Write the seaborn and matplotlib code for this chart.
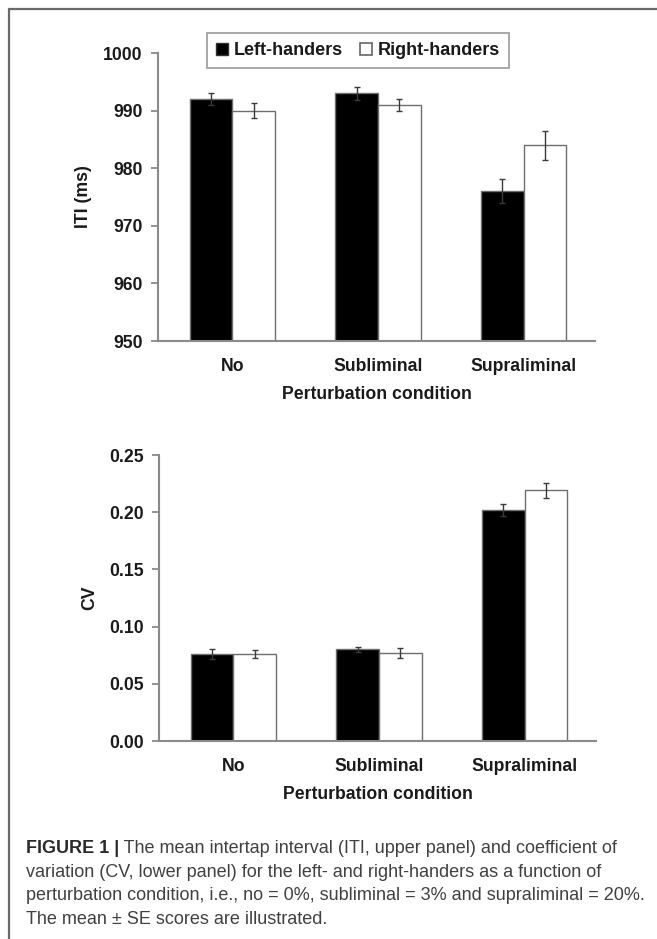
import matplotlib
matplotlib.use("Agg")
import matplotlib.pyplot as plt
from matplotlib.lines import Line2D
import seaborn as sns
import pandas as pd

conditions = ["No", "Subliminal", "Supraliminal"]
groups = ["Left-handers", "Right-handers"]
iti_left = [992.0, 993.0, 976.0]
iti_right = [990.0, 991.0, 984.0]
iti_left_se = [1.1, 1.1, 2.1]
iti_right_se = [1.3, 1.0, 2.5]
cv_left = [0.076, 0.080, 0.202]
cv_right = [0.076, 0.077, 0.219]
cv_left_se = [0.0045, 0.002, 0.005]
cv_right_se = [0.0035, 0.0045, 0.0065]
iti_ticks = [950, 960, 970, 980, 990, 1000]
cv_ticks = [0.00, 0.05, 0.10, 0.15, 0.20, 0.25]
cv_tick_labels = ["0.00", "0.05", "0.10", "0.15", "0.20", "0.25"]
caption_bold = "FIGURE 1 |"
caption_lines = [
    " The mean intertap interval (ITI, upper panel) and coefficient of",
    "variation (CV, lower panel) for the left- and right-handers as a function of",
    "perturbation condition, i.e., no = 0%, subliminal = 3% and supraliminal = 20%.",
    "The mean \u00b1 SE scores are illustrated.",
]

sns.set_theme(style="white")
plt.rcParams["font.family"] = ["Liberation Sans", "DejaVu Sans"]

W, H = 657, 939
fig = plt.figure(figsize=(W / 100, H / 100), dpi=100)

def make_df(left, right):
    rows = []
    for c, v in zip(conditions, left):
        rows.append({"Condition": c, "Group": groups[0], "Value": v})
    for c, v in zip(conditions, right):
        rows.append({"Condition": c, "Group": groups[1], "Value": v})
    return pd.DataFrame(rows)

def px_axes(left, right, top, bottom):
    return fig.add_axes([left / W, 1 - bottom / H, (right - left) / W, (bottom - top) / H])

spine_col = "#8a8a8a"
tick_fs = 12.7
txt_col = "#1a1a1a"

def style_panel(ax, df, left_se, right_se, ylim, yticks, ylabels, ylabel):
    sns.barplot(data=df, x="Condition", y="Value", hue="Group", order=conditions,
                hue_order=groups, palette=["black", "white"], width=0.585,
                edgecolor="#6e6e6e", linewidth=1.0, errorbar=None, legend=False,
                saturation=1, ax=ax)
    for cont, se in zip(ax.containers[:2], [left_se, right_se]):
        xs = [p.get_x() + p.get_width() / 2 for p in cont.patches]
        ys = [p.get_height() for p in cont.patches]
        ax.errorbar(xs, ys, yerr=se, fmt="none", ecolor="#3a3a3a", elinewidth=1.0,
                    capsize=2.5, capthick=1.0, zorder=5)
    ax.set_xlim(-0.51, 2.49)
    ax.set_ylim(*ylim)
    ax.set_yticks(yticks)
    ax.set_yticklabels(ylabels)
    ax.set_ylabel(ylabel, fontsize=tick_fs, fontweight="bold", labelpad=8, color=txt_col)
    ax.set_xlabel("Perturbation condition", fontsize=tick_fs, fontweight="bold",
                  labelpad=8, color=txt_col)
    for s in ["top", "right"]:
        ax.spines[s].set_visible(False)
    for s in ["left", "bottom"]:
        ax.spines[s].set_color(spine_col)
        ax.spines[s].set_linewidth(1.5)
    ax.tick_params(axis="y", length=5, width=1.3, color=spine_col, direction="out",
                   labelsize=tick_fs, pad=6, left=True)
    ax.tick_params(axis="x", length=0, labelsize=tick_fs, pad=12)
    for lab in ax.get_xticklabels() + ax.get_yticklabels():
        lab.set_fontweight("bold")
        lab.set_color(txt_col)

ax1 = px_axes(158, 595, 53, 341)
style_panel(ax1, make_df(iti_left, iti_right), iti_left_se, iti_right_se,
            (950, 1000), iti_ticks, [str(t) for t in iti_ticks], "ITI (ms)")

handles = [Line2D([0], [0], marker="s", linestyle="none", markersize=8.5,
                  markerfacecolor="black", markeredgecolor="#333333"),
           Line2D([0], [0], marker="s", linestyle="none", markersize=8,
                  markerfacecolor="white", markeredgecolor="#666666", markeredgewidth=1.2)]
leg = ax1.legend(handles, groups, ncol=2, loc="upper left",
                 bbox_to_anchor=(207 / W, 1 - 33 / H), bbox_transform=fig.transFigure,
                 borderaxespad=0, frameon=True, fancybox=False, handlelength=0.7,
                 handletextpad=0.3, columnspacing=0.9, borderpad=0.5,
                 prop={"weight": "bold", "size": 13})
leg.get_frame().set_edgecolor(spine_col)
leg.get_frame().set_linewidth(1.3)
for t in leg.get_texts():
    t.set_color(txt_col)

ax2 = px_axes(159, 596, 455, 741)
style_panel(ax2, make_df(cv_left, cv_right), cv_left_se, cv_right_se,
            (0, 0.25), cv_ticks, cv_tick_labels, "CV")

# figure frame
fig.add_artist(Line2D([9 / W, 1], [1 - 9 / H, 1 - 9 / H], transform=fig.transFigure,
                      color="#6a6a6a", lw=1.6))
fig.add_artist(Line2D([9 / W, 9 / W], [0, 1 - 9 / H], transform=fig.transFigure,
                      color="#6a6a6a", lw=1.6))

# caption
cap_fs = 13.0
cap_col = "#404040"
baselines = [853, 876.7, 900.4, 924]
t0 = fig.text(26 / W, 1 - baselines[0] / H, caption_bold, fontsize=cap_fs,
              fontweight="bold", color="#2a2a2a", va="baseline", ha="left")
fig.add_artist(matplotlib.text.Annotation(caption_lines[0], xy=(1, 0), xycoords=t0,
                                          va="bottom", ha="left", fontsize=cap_fs,
                                          color=cap_col, annotation_clip=False))
for y, txt in zip(baselines[1:], caption_lines[1:]):
    fig.text(26 / W, 1 - y / H, txt, fontsize=cap_fs, color=cap_col,
             va="baseline", ha="left")

fig.savefig("out.png", dpi=100)
